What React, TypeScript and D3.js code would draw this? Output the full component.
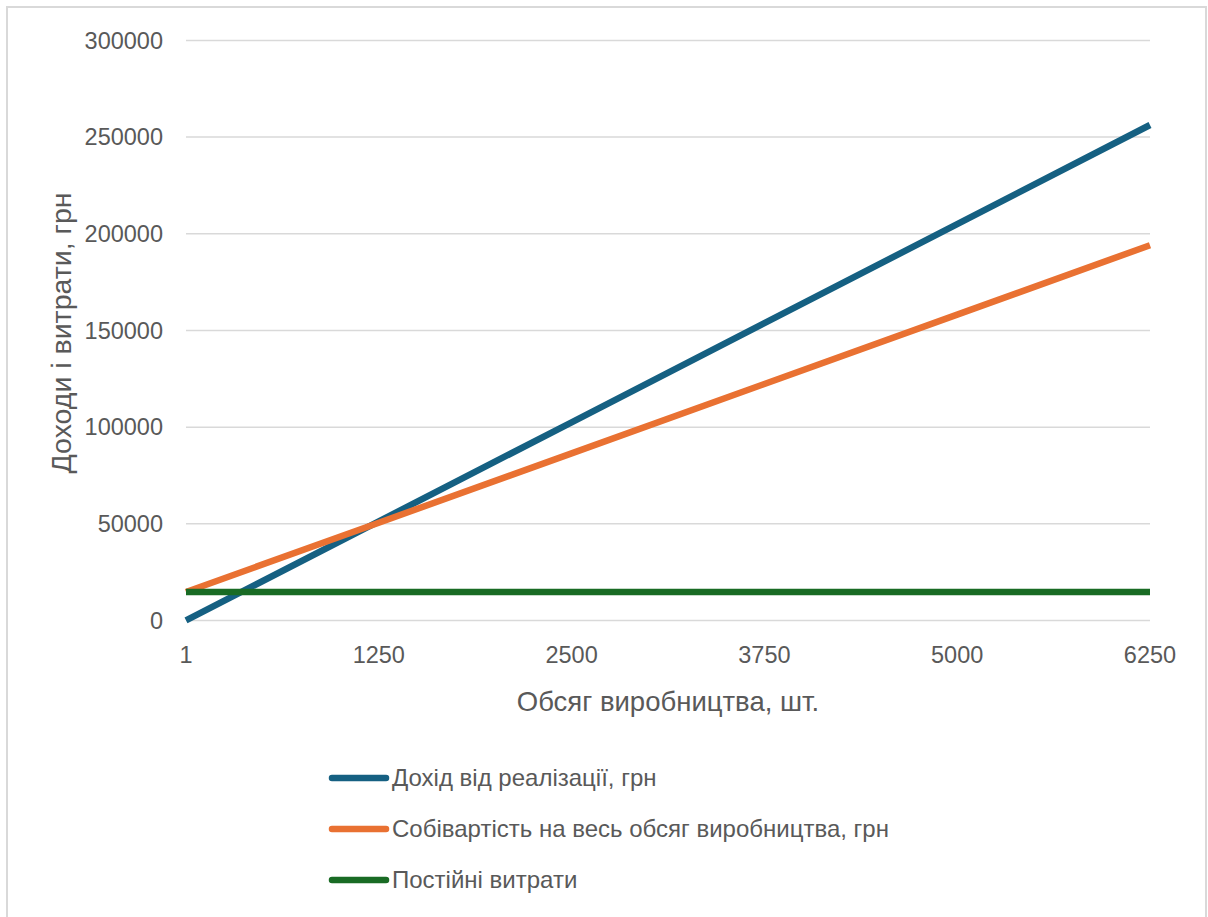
import React from "react";
import * as d3 from "d3";

const categories = ["1", "1250", "2500", "3750", "5000", "6250"];
const revenue = [41, 51250, 102500, 153750, 205000, 256250];
const totalCost = [14730, 50575, 86450, 122325, 158200, 194075];
const fixedCost = [14700, 14700, 14700, 14700, 14700, 14700];
const yTicks = [0, 50000, 100000, 150000, 200000, 250000, 300000];

const seriesNames = [
  "Дохід від реалізації, грн",
  "Собівартість на весь обсяг виробництва, грн",
  "Постійні витрати",
];
const seriesColors = ["#156082", "#E97132", "#196B24"];
const seriesValues = [revenue, totalCost, fixedCost];

const W = 1208;
const H = 917;
const FONT = "'Liberation Sans', Arial, sans-serif";
const TEXT = "#595959";

export default function App() {
  const x = d3.scalePoint<string>().domain(categories).range([186, 1150]).padding(0);
  const y = d3.scaleLinear().domain([0, 300000]).range([620.5, 40.4]);
  const line = d3
    .line<number>()
    .x((_, i) => x(categories[i]) as number)
    .y((d) => y(d));

  return (
    <svg
      width={W}
      height={H}
      style={{ position: "absolute", left: 0, top: 0, background: "#fff" }}
    >
      <rect x={7} y={7} width={1199} height={H + 10} fill="#fff" stroke="#d9d9d9" strokeWidth={2} />
      {yTicks.map((t) => (
        <g key={t}>
          <line x1={186} x2={1150} y1={y(t)} y2={y(t)} stroke="#d9d9d9" strokeWidth={1.5} />
          <text
            x={163}
            y={y(t)}
            dy="0.35em"
            textAnchor="end"
            fontFamily={FONT}
            fontSize={23.5}
            fill={TEXT}
          >
            {t}
          </text>
        </g>
      ))}
      {categories.map((c) => (
        <text
          key={c}
          x={x(c)}
          y={663}
          textAnchor="middle"
          fontFamily={FONT}
          fontSize={23.5}
          fill={TEXT}
        >
          {c}
        </text>
      ))}
      <text
        x={668}
        y={711}
        textAnchor="middle"
        fontFamily={FONT}
        fontSize={27.5}
        fill={TEXT}
      >
        Обсяг виробництва, шт.
      </text>
      <text
        transform="translate(71,333) rotate(-90)"
        textAnchor="middle"
        fontFamily={FONT}
        fontSize={28.5}
        fill={TEXT}
      >
        Доходи і витрати, грн
      </text>
      {seriesValues.map((vals, i) => (
        <path
          key={i}
          d={line(vals) as string}
          fill="none"
          stroke={seriesColors[i]}
          strokeWidth={6.5}
          strokeLinejoin="round"
        />
      ))}
      {seriesNames.map((n, i) => {
        const ly = 778 + i * 51;
        return (
          <g key={n}>
            <line
              x1={332}
              x2={386}
              y1={ly}
              y2={ly}
              stroke={seriesColors[i]}
              strokeWidth={6.5}
              strokeLinecap="round"
            />
            <text
              x={392}
              y={ly}
              dy="0.35em"
              fontFamily={FONT}
              fontSize={24}
              fill={TEXT}
            >
              {n}
            </text>
          </g>
        );
      })}
    </svg>
  );
}
